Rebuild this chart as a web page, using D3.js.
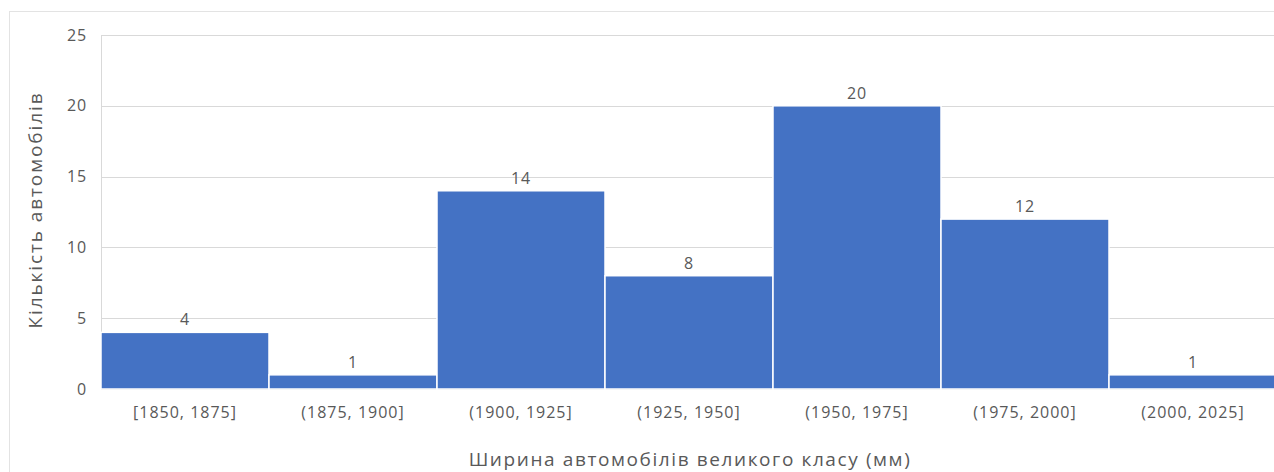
<!DOCTYPE html>
<html>
<head>
<meta charset="utf-8">
<script src="https://cdn.jsdelivr.net/npm/d3@7"></script>
<style>
  body { margin: 0; background: #fff; overflow: hidden; }
  text { font-family: "Open Sans", "Noto Sans", sans-serif; fill: #595959; }
</style>
</head>
<body>
<div id="chart"></div>
<script>
var bins = ['[1850, 1875]', '(1875, 1900]', '(1900, 1925]', '(1925, 1950]', '(1950, 1975]', '(1975, 2000]', '(2000, 2025]'];
var counts = [4, 1, 14, 8, 20, 12, 1];
var yTicks = [0, 5, 10, 15, 20, 25];

var width = 1274, height = 472;
var plotLeft = 101, plotRight = 1277, plotTop = 35, plotBottom = 389;

var svg = d3.select('#chart')
    .append('svg')
    .attr('width', width)
    .attr('height', height)
    .style('display', 'block');

// chart area border
svg.append('rect')
    .attr('x', 9.5)
    .attr('y', 11.5)
    .attr('width', 1300)
    .attr('height', 500)
    .style('fill', 'none')
    .style('stroke', '#e3e3e3');

var x = d3.scaleBand().domain(bins).range([plotLeft, plotRight]).padding(0);
var y = d3.scaleLinear().domain([0, 25]).range([plotBottom, plotTop]);

// gridlines
svg.append('g')
    .selectAll('line')
    .data(yTicks)
    .enter().append('line')
    .attr('x1', plotLeft)
    .attr('x2', plotRight)
    .attr('y1', function (d) { return Math.round(y(d)) + 0.5; })
    .attr('y2', function (d) { return Math.round(y(d)) + 0.5; })
    .style('stroke', '#d9d9d9');

svg.append('line')
    .attr('x1', plotLeft + 0.5).attr('x2', plotLeft + 0.5)
    .attr('y1', y(25)).attr('y2', y(0))
    .style('stroke', '#d9d9d9');

// bars
svg.append('g')
    .selectAll('rect')
    .data(counts)
    .enter().append('rect')
    .attr('x', function (d, i) { return x(bins[i]); })
    .attr('width', x.bandwidth())
    .attr('y', function (d) { return y(d); })
    .attr('height', function (d) { return y(0) - y(d); })
    .style('fill', '#4472c4')
    .style('stroke', '#fff')
    .style('stroke-width', 1.5);

// value labels
svg.append('g')
    .selectAll('text')
    .data(counts)
    .enter().append('text')
    .attr('x', function (d, i) { return x(bins[i]) + x.bandwidth() / 2; })
    .attr('y', function (d) { return y(d) - 7; })
    .attr('text-anchor', 'middle')
    .style('font-size', '16px')
    .style('letter-spacing', '0.8px')
    .text(function (d) { return d; });

// y axis labels
var yAxis = svg.append('g')
    .attr('transform', 'translate(' + (plotLeft - 14) + ',0)')
    .call(d3.axisLeft(y).tickValues(yTicks).tickSize(0).tickPadding(0));
yAxis.select('.domain').remove();
yAxis.selectAll('text')
    .style('font-size', '16px')
    .style('letter-spacing', '0.8px')
    .style('font-family', '"Open Sans", sans-serif')
    .attr('fill', '#595959');

// x axis labels
var xAxis = svg.append('g')
    .attr('transform', 'translate(0,' + plotBottom + ')')
    .call(d3.axisBottom(x).tickSize(0).tickPadding(18));
xAxis.select('.domain').remove();
xAxis.selectAll('text')
    .style('font-size', '16px')
    .style('letter-spacing', '1px')
    .style('font-family', '"Open Sans", sans-serif')
    .attr('fill', '#595959');

// axis titles
svg.append('text')
    .attr('x', 690)
    .attr('y', 466)
    .attr('text-anchor', 'middle')
    .style('font-size', '19px')
    .style('letter-spacing', '1.6px')
    .text('Ширина автомобілів великого класу (мм)');

svg.append('text')
    .attr('transform', 'translate(42,210) rotate(-90)')
    .attr('text-anchor', 'middle')
    .style('font-size', '19px')
    .style('letter-spacing', '1.9px')
    .text('Кількість автомобілів');
</script>
</body>
</html>
